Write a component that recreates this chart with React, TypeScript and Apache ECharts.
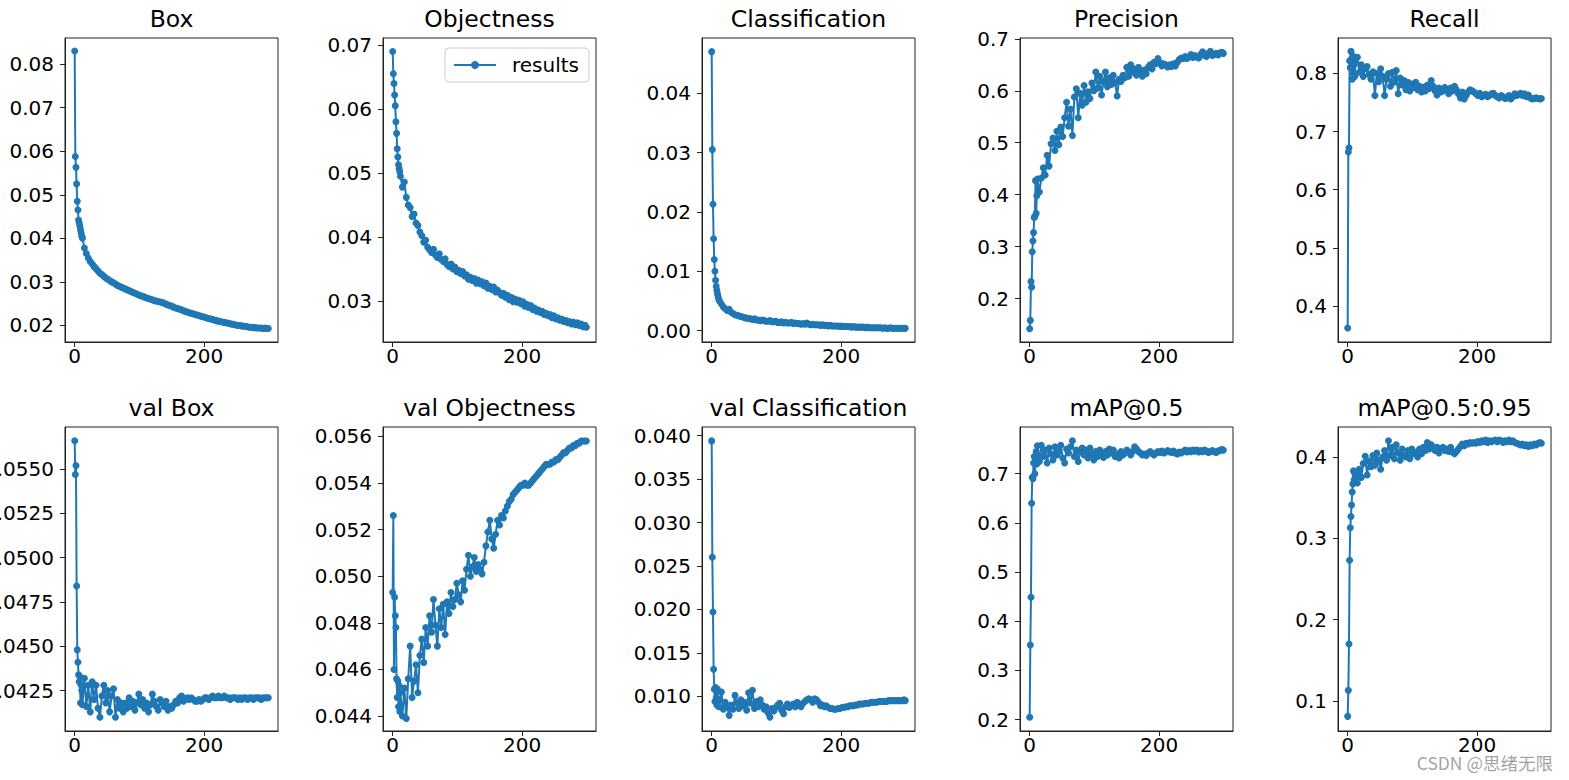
import React, { useEffect, useRef } from "react";
import * as echarts from "echarts";

// ---- data -------------------------------------------------------------
const epochs = [
  0, 1, 2, 3, 4, 5, 6, 7, 8, 9, 10, 11, 12,
  15, 18, 21, 24, 27, 30, 33, 36, 39, 42,
  45, 48, 51, 54, 57, 60, 63, 66, 69, 72,
  75, 78, 81, 84, 87, 90, 93, 96, 99, 102,
  105, 108, 111, 114, 117, 120, 123, 126, 129, 132,
  135, 138, 141, 144, 147, 150, 153, 156, 159, 162,
  165, 168, 171, 174, 177, 180, 183, 186, 189, 192,
  195, 198, 201, 204, 207, 210, 213, 216, 219, 222,
  225, 228, 231, 234, 237, 240, 243, 246, 249, 252,
  255, 258, 261, 264, 267, 270, 273, 276, 279, 282,
  285, 288, 291, 294, 297, 299,
];

const boxLoss = [
  0.083, 0.0588, 0.0563, 0.0525, 0.0485, 0.0465, 0.0442, 0.0435, 0.0428, 0.042, 0.0412, 0.0405, 0.04,
  0.0378, 0.0365, 0.0355, 0.0347, 0.0341, 0.0335, 0.033, 0.0325, 0.032, 0.0317,
  0.0313, 0.0309, 0.0306, 0.0303, 0.03, 0.0298, 0.0295, 0.0292, 0.029, 0.0288,
  0.0286, 0.0284, 0.0282, 0.028, 0.0278, 0.0276, 0.0274, 0.0272, 0.027, 0.0268,
  0.0267, 0.0265, 0.0263, 0.0262, 0.026, 0.0259, 0.0257, 0.0256, 0.0255, 0.0254,
  0.0253, 0.0251, 0.0249, 0.0247, 0.0246, 0.0244, 0.0242, 0.024, 0.0239, 0.0237,
  0.0236, 0.0234, 0.0232, 0.0231, 0.0229, 0.0228, 0.0227, 0.0225, 0.0224, 0.0223,
  0.0221, 0.022, 0.0219, 0.0217, 0.0216, 0.0215, 0.0214, 0.0212, 0.0211, 0.021,
  0.0209, 0.0208, 0.0207, 0.0206, 0.0205, 0.0204, 0.0203, 0.0202, 0.0201, 0.02,
  0.02, 0.0199, 0.0198, 0.0198, 0.0197, 0.0196, 0.0196, 0.0195, 0.0195, 0.0194,
  0.0194, 0.0194, 0.0193, 0.0194, 0.0193, 0.0193,
];

const objLoss = [
  0.069, 0.0655, 0.064, 0.0622, 0.0605, 0.058, 0.0562, 0.0538, 0.0525, 0.0513, 0.0507, 0.0502, 0.0495,
  0.0478, 0.0486, 0.0462, 0.045, 0.0446, 0.0432, 0.0436, 0.0422, 0.0418, 0.0408,
  0.0402, 0.0392, 0.0395, 0.0384, 0.038, 0.0376, 0.0381, 0.0372, 0.0368, 0.0374,
  0.0365, 0.0362, 0.0366, 0.0357, 0.0354, 0.0358, 0.035, 0.0353, 0.0346, 0.0348,
  0.0343, 0.0346, 0.0339, 0.0341, 0.0334, 0.0337, 0.0332, 0.0335, 0.0328, 0.0333,
  0.0327, 0.033, 0.0324, 0.0328, 0.032, 0.0323, 0.0318, 0.0322, 0.0314, 0.0317,
  0.0313, 0.0309, 0.0312, 0.0306, 0.0309, 0.0302, 0.0306, 0.0299, 0.0303, 0.0298,
  0.0301, 0.0296, 0.0299, 0.0292, 0.0295, 0.029, 0.0293, 0.0287, 0.0289, 0.0284,
  0.0286, 0.0282, 0.0284, 0.0279, 0.0281, 0.0277, 0.0279, 0.0274, 0.0277, 0.0272,
  0.0274, 0.027, 0.0272, 0.0268, 0.027, 0.0266, 0.0268, 0.0264, 0.0267, 0.0263,
  0.0266, 0.0262, 0.0264, 0.026, 0.0262, 0.0259,
];

const clsLoss = [
  0.047, 0.0305, 0.0213, 0.0155, 0.012, 0.01, 0.0085, 0.0075, 0.0068, 0.0062, 0.0057, 0.0053, 0.005,
  0.0045, 0.004, 0.0037, 0.0034, 0.0036, 0.0031, 0.0029, 0.0027, 0.0026, 0.0025,
  0.0024, 0.0023, 0.0022, 0.0021, 0.0021, 0.002, 0.0019, 0.002, 0.0018, 0.0018,
  0.0017, 0.0018, 0.0017, 0.0016, 0.0016, 0.0017, 0.0015, 0.0015, 0.0016, 0.0014,
  0.0014, 0.0015, 0.0013, 0.0014, 0.0013, 0.0013, 0.0014, 0.0012, 0.0013, 0.0012,
  0.0012, 0.0011, 0.0012, 0.0011, 0.0013, 0.0011, 0.001, 0.0011, 0.001, 0.001,
  0.001, 0.0009, 0.001, 0.0009, 0.0009, 0.0008, 0.0009, 0.0008, 0.0008, 0.0008,
  0.0008, 0.0007, 0.0008, 0.0007, 0.0007, 0.0007, 0.0007, 0.0006, 0.0007, 0.0006,
  0.0006, 0.0006, 0.0006, 0.0006, 0.0005, 0.0006, 0.0005, 0.0005, 0.0005, 0.0005,
  0.0005, 0.0005, 0.0005, 0.0004, 0.0005, 0.0004, 0.0004, 0.0005, 0.0004, 0.0004,
  0.0004, 0.0004, 0.0004, 0.0004, 0.0004, 0.0004,
];

const precision = [
  0.142, 0.158, 0.233, 0.222, 0.29, 0.311, 0.327, 0.356, 0.358, 0.427, 0.364, 0.398, 0.43,
  0.405, 0.432, 0.452, 0.438, 0.476, 0.455, 0.498, 0.509, 0.485, 0.522,
  0.496, 0.53, 0.512, 0.548, 0.578, 0.532, 0.565, 0.514, 0.588, 0.604,
  0.548, 0.595, 0.572, 0.61, 0.578, 0.598, 0.585, 0.615, 0.6, 0.636,
  0.605, 0.628, 0.592, 0.618, 0.636, 0.608, 0.625, 0.612, 0.63, 0.615,
  0.59, 0.622, 0.618, 0.63, 0.625, 0.645, 0.628, 0.65, 0.636, 0.642,
  0.63, 0.645, 0.638, 0.628, 0.64, 0.633, 0.645, 0.65, 0.642, 0.655,
  0.652, 0.662, 0.655, 0.648, 0.652, 0.65, 0.646, 0.65, 0.647, 0.652,
  0.648, 0.655, 0.66, 0.663, 0.662, 0.666, 0.662, 0.665, 0.67, 0.664,
  0.668, 0.665, 0.663, 0.67, 0.675, 0.668, 0.666, 0.672, 0.676, 0.668,
  0.67, 0.672, 0.669, 0.673, 0.674, 0.672,
];

const recall = [
  0.362, 0.665, 0.672, 0.822, 0.81, 0.838, 0.825, 0.79, 0.83, 0.8, 0.815, 0.795, 0.822,
  0.828, 0.802, 0.815, 0.795, 0.808, 0.812, 0.798, 0.79, 0.803, 0.762,
  0.8, 0.786, 0.808, 0.795, 0.762, 0.79, 0.8, 0.778, 0.802, 0.785,
  0.805, 0.765, 0.792, 0.78, 0.788, 0.772, 0.785, 0.77, 0.782, 0.776,
  0.785, 0.772, 0.778, 0.768, 0.776, 0.77, 0.78, 0.774, 0.788, 0.778,
  0.77, 0.763, 0.775, 0.768, 0.77, 0.776, 0.772, 0.765, 0.775, 0.77,
  0.778, 0.772, 0.765, 0.758, 0.768, 0.756, 0.762, 0.768, 0.772, 0.77,
  0.768, 0.765, 0.762, 0.766, 0.76, 0.762, 0.764, 0.76, 0.762, 0.765,
  0.766, 0.762, 0.76, 0.758, 0.762, 0.76, 0.757, 0.758, 0.762, 0.756,
  0.76, 0.765, 0.762, 0.764, 0.766, 0.762, 0.765, 0.76, 0.763, 0.758,
  0.756, 0.757, 0.758, 0.757, 0.756, 0.757,
];

const valBoxLoss = [
  0.0566, 0.0547, 0.0552, 0.0484, 0.0448, 0.0441, 0.0434, 0.043, 0.0433, 0.0418, 0.0428, 0.0425, 0.0417,
  0.0432, 0.0416, 0.0428, 0.0413, 0.043, 0.042, 0.0428, 0.0415, 0.041, 0.0422,
  0.0428, 0.0418, 0.0425, 0.0413, 0.0422, 0.0426, 0.041, 0.042, 0.0415, 0.0418,
  0.0413, 0.0418, 0.0415, 0.0421, 0.0416, 0.0419, 0.0414, 0.0418, 0.0423, 0.0417,
  0.042, 0.0415, 0.0418, 0.0413, 0.0417, 0.0423, 0.0419, 0.0416, 0.0414, 0.042,
  0.0418, 0.0416, 0.0419, 0.0414, 0.0416, 0.0415, 0.0417, 0.0419, 0.0418, 0.0421,
  0.0422, 0.0419, 0.042, 0.0421, 0.042, 0.0421, 0.042, 0.0419, 0.0419, 0.042,
  0.0419, 0.042, 0.0421, 0.0421, 0.042, 0.0421, 0.0422, 0.0421, 0.0421, 0.0422,
  0.0421, 0.0421, 0.0422, 0.0421, 0.0421, 0.042, 0.0421, 0.0421, 0.0421, 0.042,
  0.0421, 0.042, 0.0421, 0.0421, 0.042, 0.0421, 0.0421, 0.042, 0.0421, 0.0421,
  0.0421, 0.042, 0.0421, 0.0421, 0.0421, 0.0421,
];

const valObjLoss = [
  0.0493, 0.0526, 0.046, 0.0491, 0.0483, 0.0478, 0.0456, 0.0448, 0.0455, 0.0444, 0.0453, 0.0442, 0.045,
  0.044, 0.0452, 0.0439, 0.0456, 0.047, 0.0448, 0.0455, 0.0462, 0.045, 0.0466,
  0.0473, 0.0463, 0.0478, 0.047, 0.0483, 0.0476, 0.049, 0.0479, 0.047, 0.0486,
  0.0478, 0.0488, 0.0475, 0.0489, 0.0484, 0.0493, 0.0487, 0.049, 0.0497, 0.0492,
  0.0489, 0.0498, 0.0494, 0.0503, 0.0509, 0.05, 0.0504, 0.0508, 0.0502, 0.0505,
  0.0503, 0.0501, 0.0506, 0.0513, 0.0519, 0.0524, 0.0516, 0.0512, 0.0518, 0.0524,
  0.0522, 0.0526, 0.0525, 0.0528, 0.053, 0.0532, 0.0533, 0.0535, 0.0536, 0.0537,
  0.0538, 0.0539, 0.0539, 0.054, 0.0539, 0.0539, 0.054, 0.0541, 0.0542, 0.0543,
  0.0544, 0.0545, 0.0546, 0.0547, 0.0548, 0.0548, 0.0548, 0.0549, 0.0549, 0.055,
  0.055, 0.0551, 0.0552, 0.0553, 0.0553, 0.0554, 0.0555, 0.0555, 0.0556, 0.0556,
  0.0557, 0.0557, 0.0558, 0.0558, 0.0558, 0.0558,
];

const valClsLoss = [
  0.0394, 0.026, 0.0197, 0.0131, 0.0108, 0.0094, 0.011, 0.0098, 0.009, 0.0108, 0.0092, 0.0088, 0.0096,
  0.0105, 0.0085, 0.0093, 0.0088, 0.0078, 0.009, 0.0085, 0.0101, 0.0092, 0.0086,
  0.0096, 0.0089, 0.0093, 0.0084, 0.0104, 0.0092, 0.0107, 0.0086, 0.0094, 0.0088,
  0.0096, 0.009, 0.0085, 0.0088, 0.0081, 0.0076, 0.0086, 0.0083, 0.0087, 0.009,
  0.0092, 0.0084, 0.008, 0.0088, 0.0091, 0.0087, 0.0089, 0.0091, 0.0088, 0.0093,
  0.009, 0.0088, 0.0092, 0.0094, 0.0096, 0.0097, 0.0096, 0.0093, 0.0097, 0.0096,
  0.0093, 0.0089, 0.009, 0.0088, 0.0089, 0.0087, 0.0086, 0.0086, 0.0085, 0.0085,
  0.0086, 0.0086, 0.0087, 0.0087, 0.0088, 0.0088, 0.0089, 0.0089, 0.0089, 0.009,
  0.009, 0.0091, 0.0091, 0.0091, 0.0092, 0.0092, 0.0092, 0.0093, 0.0093, 0.0093,
  0.0093, 0.0094, 0.0094, 0.0094, 0.0094, 0.0094, 0.0095, 0.0095, 0.0095, 0.0095,
  0.0095, 0.0095, 0.0095, 0.0095, 0.0096, 0.0095,
];

const map50 = [
  0.205, 0.352, 0.449, 0.64, 0.693, 0.69, 0.722, 0.735, 0.7, 0.728, 0.745, 0.72, 0.757,
  0.725, 0.758, 0.735, 0.748, 0.722, 0.752, 0.74, 0.728, 0.755, 0.738,
  0.745, 0.758, 0.732, 0.722, 0.75, 0.742, 0.755, 0.767, 0.735, 0.748,
  0.725, 0.745, 0.752, 0.738, 0.748, 0.732, 0.752, 0.74, 0.728, 0.745,
  0.735, 0.748, 0.74, 0.733, 0.745, 0.738, 0.75, 0.742, 0.748, 0.735,
  0.74, 0.732, 0.745, 0.738, 0.742, 0.748, 0.744, 0.738, 0.745, 0.755,
  0.75, 0.745, 0.742, 0.738, 0.74, 0.737, 0.742, 0.745, 0.741, 0.738,
  0.742, 0.745, 0.743, 0.746, 0.742, 0.744, 0.747, 0.745, 0.743, 0.746,
  0.742, 0.74, 0.744, 0.742, 0.745, 0.748, 0.744, 0.747, 0.745, 0.748,
  0.746, 0.748, 0.744, 0.747, 0.745, 0.748, 0.746, 0.743, 0.745, 0.747,
  0.745, 0.743, 0.746, 0.748, 0.749, 0.748,
];

const map5095 = [
  0.081, 0.113, 0.17, 0.273, 0.313, 0.327, 0.341, 0.357, 0.367, 0.383, 0.372, 0.38, 0.375,
  0.368, 0.385, 0.375, 0.392, 0.401, 0.378, 0.395, 0.388, 0.402, 0.39,
  0.405, 0.395, 0.385, 0.4, 0.408, 0.396, 0.42, 0.402, 0.412, 0.398,
  0.415, 0.405, 0.396, 0.41, 0.402, 0.4, 0.408, 0.398, 0.41, 0.404,
  0.406, 0.4, 0.41, 0.404, 0.412, 0.408, 0.418, 0.41, 0.415, 0.412,
  0.408, 0.412, 0.405, 0.41, 0.412, 0.408, 0.41, 0.407, 0.412, 0.406,
  0.404, 0.407, 0.41, 0.413, 0.416, 0.414, 0.417, 0.416, 0.418, 0.417,
  0.418, 0.417, 0.419, 0.418, 0.42, 0.419, 0.421, 0.418, 0.42, 0.419,
  0.42, 0.421, 0.419, 0.421, 0.42, 0.418, 0.42, 0.419, 0.421, 0.419,
  0.42, 0.418, 0.417, 0.416, 0.415, 0.416, 0.414, 0.415, 0.413, 0.415,
  0.414, 0.416, 0.415, 0.417, 0.418, 0.417,
];

const titles = [
  "Box", "Objectness", "Classification", "Precision", "Recall",
  "val Box", "val Objectness", "val Classification", "mAP@0.5", "mAP@0.5:0.95",
];

const xTicks = [0, 200];
const boxTicks = [0.02, 0.03, 0.04, 0.05, 0.06, 0.07, 0.08];
const objTicks = [0.03, 0.04, 0.05, 0.06, 0.07];
const clsTicks = [0, 0.01, 0.02, 0.03, 0.04];
const precTicks = [0.2, 0.3, 0.4, 0.5, 0.6, 0.7];
const recTicks = [0.4, 0.5, 0.6, 0.7, 0.8];
const valBoxTicks = [0.0425, 0.045, 0.0475, 0.05, 0.0525, 0.055];
const valObjTicks = [0.044, 0.046, 0.048, 0.05, 0.052, 0.054, 0.056];
const valClsTicks = [0.01, 0.015, 0.02, 0.025, 0.03, 0.035, 0.04];
const map50Ticks = [0.2, 0.3, 0.4, 0.5, 0.6, 0.7];
const map5095Ticks = [0.1, 0.2, 0.3, 0.4];

const legendLabel = "results";
const watermark = "CSDN @思绪无限";

// ---- layout / style ---------------------------------------------------
const panels = [
  { values: boxLoss, ticks: boxTicks, dec: 2, min: 0.0162, max: 0.086 },
  { values: objLoss, ticks: objTicks, dec: 2, min: 0.0236, max: 0.0711 },
  { values: clsLoss, ticks: clsTicks, dec: 2, min: -0.0019, max: 0.0493 },
  { values: precision, ticks: precTicks, dec: 1, min: 0.1164, max: 0.7016 },
  { values: recall, ticks: recTicks, dec: 1, min: 0.338, max: 0.861 },
  { values: valBoxLoss, ticks: valBoxTicks, dec: 4, min: 0.04022, max: 0.05738 },
  { values: valObjLoss, ticks: valObjTicks, dec: 3, min: 0.04336, max: 0.0564 },
  { values: valClsLoss, ticks: valClsTicks, dec: 3, min: 0.006, max: 0.041 },
  { values: map50, ticks: map50Ticks, dec: 1, min: 0.177, max: 0.795 },
  { values: map5095, ticks: map5095Ticks, dec: 1, min: 0.063, max: 0.437 },
];

const COL_LEFT = [65, 383, 702, 1020, 1338];
const ROW_TOP = [38, 427];
const GW = 213;
const GH = 304;
const BLUE = "#1f77b4";
const FONT = "DejaVu Sans";

export default function App() {
  const ref = useRef<HTMLDivElement>(null);

  useEffect(() => {
    if (!ref.current) return;
    const chart = echarts.init(ref.current, undefined, { renderer: "svg" });

    const grids: any[] = [];
    const xAxes: any[] = [];
    const yAxes: any[] = [];
    const series: any[] = [];
    const graphics: any[] = [];

    panels.forEach((p, i) => {
      const left = COL_LEFT[i % 5];
      const top = ROW_TOP[Math.floor(i / 5)];
      grids.push({
        left, top, width: GW, height: GH,
        containLabel: false,
        outerBoundsMode: "none",
        show: true, borderColor: "#222", borderWidth: 1, backgroundColor: "transparent",
      });
      xAxes.push({
        type: "value", gridIndex: i, min: -14.95, max: 313.95,
        splitLine: { show: false },
        axisLine: { show: true, onZero: false, lineStyle: { color: "#222", width: 1 } },
        axisTick: { show: true, length: 5, inside: false, customValues: xTicks, lineStyle: { color: "#222", width: 1 } },
        axisLabel: {
          show: true, customValues: xTicks, margin: 4, fontSize: 20, fontFamily: FONT, color: "#000",
          formatter: (v: number) => String(Math.round(v)),
        },
      });
      yAxes.push({
        type: "value", gridIndex: i, min: p.min, max: p.max,
        splitLine: { show: false },
        axisLine: { show: true, onZero: false, lineStyle: { color: "#222", width: 1 } },
        axisTick: { show: true, length: 5, inside: false, customValues: p.ticks, lineStyle: { color: "#222", width: 1 } },
        axisLabel: {
          show: true, customValues: p.ticks, margin: 11, fontSize: 20, fontFamily: FONT, color: "#000",
          formatter: (v: number) => v.toFixed(p.dec),
        },
      });
      series.push({
        name: legendLabel,
        type: "line",
        xAxisIndex: i, yAxisIndex: i,
        data: epochs.map((e, k) => [e, p.values[k]]),
        symbol: "circle", symbolSize: 7, showSymbol: true, showAllSymbol: true,
        itemStyle: { color: BLUE },
        lineStyle: { color: BLUE, width: 2 },
        clip: false,
      });
      graphics.push({
        type: "text",
        x: left + GW / 2,
        y: top - 19,
        style: {
          text: titles[i], fontSize: 23.5, fontFamily: FONT, fill: "#000",
          align: "center", verticalAlign: "middle",
        },
      });
    });

    graphics.push({
      type: "text",
      x: 1553, y: 762,
      z: 100,
      style: {
        text: watermark, fontSize: 17.5, fontFamily: "Noto Sans CJK SC", fill: "rgba(120,120,120,0.7)",
        stroke: "rgba(255,255,255,0.8)", lineWidth: 2,
        align: "right", verticalAlign: "middle",
      },
    });

    chart.setOption({
      animation: false,
      backgroundColor: "#fff",
      grid: grids,
      xAxis: xAxes,
      yAxis: yAxes,
      series,
      graphic: graphics,
      legend: {
        data: [legendLabel],
        left: 445, top: 48,
        itemWidth: 42, itemHeight: 10,
        padding: [7, 10, 7, 8],
        borderColor: "#ccc", borderWidth: 1, borderRadius: 4,
        backgroundColor: "rgba(255,255,255,0.8)",
        selectedMode: false,
        textStyle: { fontSize: 20, fontFamily: FONT, color: "#000", padding: [0, 0, 0, 11] },
      },
    });

    return () => chart.dispose();
  }, []);

  return (
    <div
      ref={ref}
      style={{ position: "absolute", left: 0, top: 0, width: 1569, height: 780 }}
    />
  );
}
